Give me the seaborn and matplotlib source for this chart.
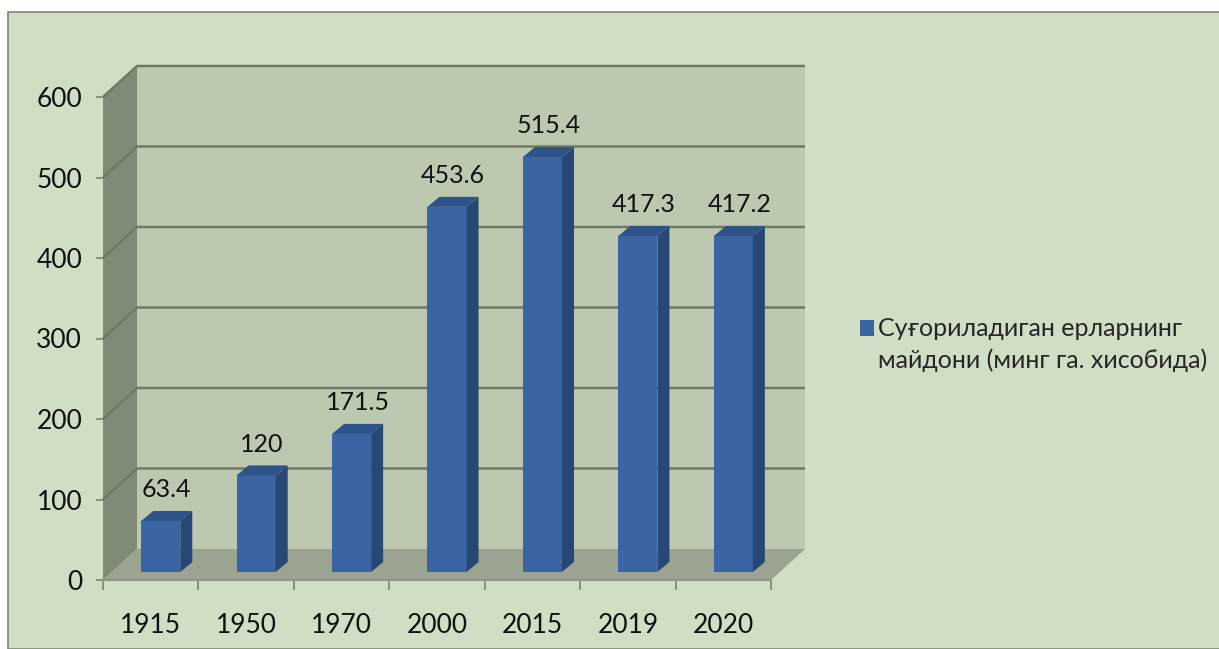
import matplotlib.pyplot as plt
import matplotlib.patches as mpatches
import numpy as np
import pandas as pd
import seaborn as sns

years = ["1915", "1950", "1970", "2000", "2015", "2019", "2020"]
area = [63.4, 120, 171.5, 453.6, 515.4, 417.3, 417.2]
yticks = [0, 100, 200, 300, 400, 500, 600]
series_lines = ["Суғориладиган ерларнинг", "майдони (минг га. хисобида)"]

df = pd.DataFrame({"year": years, "area": area})

sns.set_theme(style="white")
fonts = ["Liberation Sans Narrow", "Lato", "DejaVu Sans"]
plt.rcParams["font.family"] = fonts

panel_c = "#d0dec5"
wall_c = "#bdc8b0"
side_c = "#7f8b77"
floor_c = "#9ba491"
grid_c = "#6c7a66"
bar_front = "#3b64a2"
bar_side = "#274775"
bar_top = "#2e5389"
txt_c = "#111111"

fig = plt.figure(figsize=(12.19, 6.49), dpi=100)
fig.patch.set_facecolor("white")
W, H = 1219, 649

# green panel below the cut off title strip
fig.patches.append(mpatches.Rectangle((8 / W, 0), 1, 1 - 12 / H, transform=fig.transFigure,
                                      facecolor=panel_c, edgecolor="#7a8a72", lw=1.2, zorder=-5))

ax = fig.add_axes([103 / W, 69 / H, 668 / W, 483 / H])
ax.set_facecolor("none")
ax.set_xlim(-0.5, len(years) - 0.5)
ax.set_ylim(0, 600)

# pixel -> data scale
px_x = (len(years)) / 668.0
px_y = 600 / 483.0
wdx, wdy = 34 * px_x, 31 * px_y      # wall depth
bdx0, bdy0 = 10 * px_x, 8 * px_y     # bar front offset into depth
bdx, bdy = 12 * px_x, 10 * px_y      # bar depth

x0, x1 = -0.5, len(years) - 0.5
# back wall
ax.add_patch(mpatches.Rectangle((x0 + wdx, wdy), x1 - x0, 600, facecolor=wall_c,
                                edgecolor="none", clip_on=False, zorder=0))
# left side wall
ax.add_patch(mpatches.Polygon([(x0, 0), (x0 + wdx, wdy), (x0 + wdx, 600 + wdy), (x0, 600)],
                              closed=True, facecolor=side_c, edgecolor="none", clip_on=False, zorder=0))
# floor
ax.add_patch(mpatches.Polygon([(x0, 0), (x1, 0), (x1 + wdx, wdy), (x0 + wdx, wdy)],
                              closed=True, facecolor=floor_c, edgecolor="none", clip_on=False, zorder=0))
# gridlines
for t in yticks[1:]:
    ax.plot([x0, x0 + wdx, x1 + wdx], [t, t + wdy, t + wdy], color=grid_c, lw=1.8,
            clip_on=False, zorder=1, solid_capstyle="butt")
ax.plot([x0, x1], [0, 0], color="#8c9585", lw=1.5, clip_on=False, zorder=1)

n_before = len(ax.patches)
sns.barplot(data=df, x="year", y="area", color=bar_front, saturation=1, width=0.41,
            ax=ax, zorder=3, edgecolor="none", linewidth=0)
bars = list(ax.patches[n_before:])

for p, v in zip(bars, area):
    p.set_x(p.get_x() + bdx0)
    p.set_y(bdy0)
    p.set_clip_on(False)
    bx, bw = p.get_x(), p.get_width()
    top = v + bdy0
    ax.add_patch(mpatches.Polygon([(bx + bw, bdy0), (bx + bw + bdx, bdy0 + bdy),
                                   (bx + bw + bdx, top + bdy), (bx + bw, top)],
                                  closed=True, facecolor=bar_side, edgecolor="none", clip_on=False, zorder=3))
    ax.add_patch(mpatches.Polygon([(bx, top), (bx + bw, top), (bx + bw + bdx, top + bdy), (bx + bdx, top + bdy)],
                                  closed=True, facecolor=bar_top, edgecolor="none", clip_on=False, zorder=3))
    ax.annotate(f"{v:g}", (bx + bw / 2 + bdx / 2, top + bdy), xytext=(0, 7), textcoords="offset points",
                ha="center", va="bottom", fontsize=18, color=txt_c, family=fonts)

ax.set_yticks(yticks)
ax.set_yticklabels([str(t) for t in yticks])
ax.set_xticks(range(len(years)))
ax.set_xticklabels(years)
ax.set_xticks(np.arange(-0.5, len(years)), minor=True)
ax.tick_params(axis="x", which="major", bottom=False, length=0, pad=24, labelsize=19, labelcolor=txt_c)
ax.tick_params(axis="x", which="minor", bottom=True, length=7, width=1.2, color="#7a8470", direction="out")
ax.tick_params(axis="y", length=5, width=1.2, color="#7a8470", pad=10, labelsize=19,
               labelcolor=txt_c, left=True)
ax.set_xlabel("")
ax.set_ylabel("")
for s in ax.spines.values():
    s.set_visible(False)

handles = [mpatches.Patch(facecolor=bar_front, edgecolor="none"),
           mpatches.Patch(facecolor="none", edgecolor="none")]
fig.legend(handles, series_lines, loc="upper left", bbox_to_anchor=(843 / W, 1 - 300 / H),
           frameon=False, handlelength=0.55, handleheight=0.6, handletextpad=0.15,
           labelspacing=0.3, borderpad=0.2, prop={"family": fonts, "size": 18})

fig.savefig("out.png", dpi=100, facecolor=fig.get_facecolor())
